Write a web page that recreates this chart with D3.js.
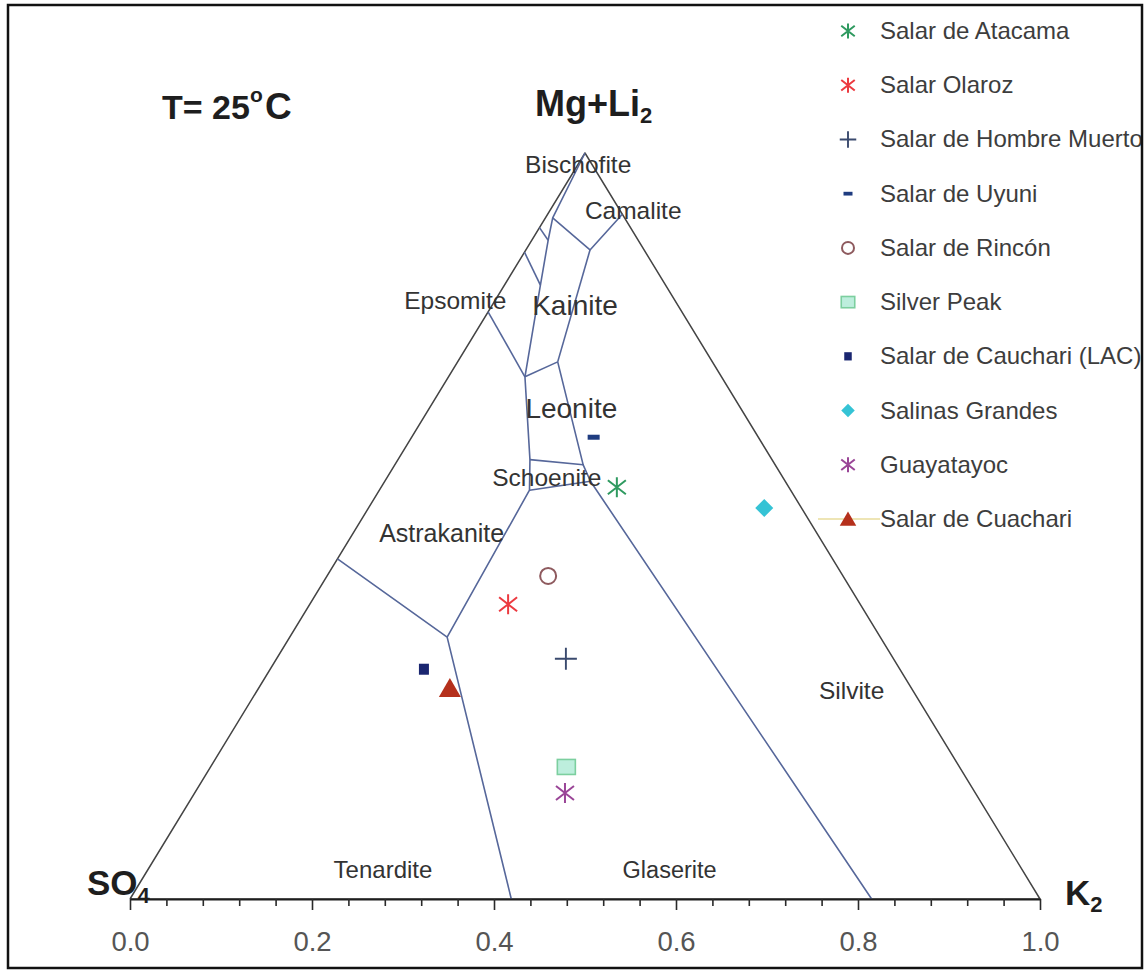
<!DOCTYPE html>
<html><head><meta charset="utf-8">
<script src="https://cdn.jsdelivr.net/npm/d3@7"></script>
<style>
html,body{margin:0;padding:0;background:#fff;}
svg{display:block;font-family:"Liberation Sans",Arial,Helvetica,sans-serif;}
</style></head><body>
<svg id="chart" width="1146" height="973"></svg>
<script>
// ---------- DATA (ternary compositions: K2 fraction, Mg+Li2 fraction; SO4 = rest) ----------
const seriesNames = ["Salar de Atacama", "Salar Olaroz", "Salar de Hombre Muerto", "Salar de Uyuni",
  "Salar de Rincón", "Silver Peak", "Salar de Cauchari (LAC)", "Salinas Grandes", "Guayatayoc", "Salar de Cuachari"];
const seriesK2    = [0.259, 0.218, 0.318, 0.200, 0.243, 0.391, 0.169, 0.435, 0.407, 0.210];
const seriesMgLi2 = [0.552, 0.395, 0.322, 0.619, 0.433, 0.177, 0.308, 0.524, 0.142, 0.283];
const seriesMarkers = ["asterisk", "asterisk", "plus", "dash", "circle", "square", "smallSquare", "diamond", "asterisk", "triangle"];
const seriesColors = ["#2f9a60", "#ec3a40", "#3a4a6e", "#1f3c80", "#8e5a5e", "#7ccf9f", "#1a2670", "#35c3d5", "#9a4597", "#b5301c"];
const seriesFills  = ["none", "none", "none", "#1f3c80", "none", "#bdeedd", "#1a2670", "#35c3d5", "none", "#b5301c"];

// phase field boundaries, each a polyline of [K2, Mg+Li2]
const phaseBoundaries = [
  [[0.0, 1.0], [0.008, 0.913], [0.018, 0.883], [0.0395, 0.823], [0.084, 0.700]],
  [[0.0, 0.900], [0.018, 0.883]],
  [[0.0, 0.867], [0.0395, 0.823]],
  [[0.008, 0.913], [0.0705, 0.870], [0.082, 0.918]],
  [[0.0705, 0.870], [0.110, 0.720]],
  [[0.0, 0.787], [0.084, 0.700]],
  [[0.084, 0.700], [0.110, 0.720]],
  [[0.084, 0.700], [0.145, 0.589], [0.165, 0.548], [0.173, 0.351]],
  [[0.110, 0.720], [0.207, 0.582], [0.226, 0.560], [0.815, 0.0]],
  [[0.145, 0.589], [0.207, 0.582]],
  [[0.165, 0.548], [0.226, 0.560]],
  [[0.0, 0.456], [0.173, 0.351], [0.419, 0.0]]
];

// phase field names and their ternary positions
const fieldNames = ["Bischofite", "Camalite", "Epsomite", "Kainite", "Leonite", "Schoenite", "Astrakanite", "Tenardite", "Glaserite", "Silvite"];
const fieldK2    = [0.0, 0.091, -0.044, 0.091, 0.156, 0.175, 0.097, 0.258, 0.573, 0.653];
const fieldMgLi2 = [0.985, 0.924, 0.803, 0.796, 0.658, 0.566, 0.491, 0.040, 0.040, 0.280];
const fieldSizes = [24.5, 24.5, 24.5, 28, 28, 24.5, 25, 24, 23.5, 24.5];

const tickValues = d3.range(0, 1.0001, 0.04);
const tickLabels = ["0.0", "0.2", "0.4", "0.6", "0.8", "1.0"];

// ---------- SCALES ----------
const svg = d3.select("#chart");
const x = d3.scaleLinear().domain([0, 1]).range([130, 1040]);
const y = d3.scaleLinear().domain([0, 1]).range([899, 153]);
const tern = (k, m) => [x(k + m / 2), y(m)];

svg.append("rect").attr("width", 1146).attr("height", 973).attr("fill", "#fff");
svg.append("clipPath").attr("id", "frameClip").append("rect")
  .attr("x", 9).attr("y", 6).attr("width", 1132).attr("height", 961);
const g = svg.append("g").attr("clip-path", "url(#frameClip)");

// outer triangle
const line = d3.line().x(d => tern(d[0], d[1])[0]).y(d => tern(d[0], d[1])[1]);
g.append("path").datum([[0, 0], [1, 0], [0, 1], [0, 0]]).attr("d", line)
  .attr("fill", "none").attr("stroke", "#444").attr("stroke-width", 1.5).attr("stroke-linejoin", "round");

// boundaries
g.selectAll("path.bnd").data(phaseBoundaries).join("path").attr("class", "bnd")
  .attr("d", line).attr("fill", "none").attr("stroke", "#56679a").attr("stroke-width", 1.6)
  .attr("stroke-linejoin", "round");

// field labels
g.selectAll("text.field").data(fieldNames).join("text").attr("class", "field")
  .attr("x", (d, i) => tern(fieldK2[i], fieldMgLi2[i])[0])
  .attr("y", (d, i) => tern(fieldK2[i], fieldMgLi2[i])[1])
  .attr("dy", "0.36em").attr("text-anchor", "middle")
  .attr("font-size", (d, i) => fieldSizes[i]).attr("fill", "#333").text(d => d);

// corner labels
const so4 = g.append("text").attr("x", 87).attr("y", 895).attr("font-size", 35).attr("font-weight", "bold").attr("fill", "#1e1e1e");
so4.append("tspan").text("SO");
so4.append("tspan").attr("font-size", 22).attr("dy", 8).text("4");
const k2 = g.append("text").attr("x", 1065).attr("y", 905).attr("font-size", 35).attr("font-weight", "bold").attr("fill", "#1e1e1e");
k2.append("tspan").text("K");
k2.append("tspan").attr("font-size", 22).attr("dy", 7).text("2");
const mg = g.append("text").attr("x", 535).attr("y", 116).attr("font-size", 36).attr("font-weight", "bold").attr("fill", "#1e1e1e");
mg.append("tspan").text("Mg+Li");
mg.append("tspan").attr("font-size", 22).attr("dy", 7).text("2");
const tt = g.append("text").attr("x", 162).attr("y", 119).attr("font-size", 34).attr("font-weight", "bold").attr("fill", "#1e1e1e");
tt.append("tspan").text("T= 25");
tt.append("tspan").attr("font-size", 21).attr("x", 250).attr("dy", -17).text("o");
tt.append("tspan").attr("dy", 17).attr("x", 265).attr("font-size", 37).text("C");

// axis
const major = d => Math.abs(d * 5 - Math.round(d * 5)) < 1e-6;
const xAxis = d3.axisBottom(x).tickValues(tickValues).tickSize(7).tickSizeOuter(0)
  .tickFormat(d => major(d) ? tickLabels[Math.round(d * 5)] : "");
const ax = g.append("g").attr("transform", "translate(0,899)").call(xAxis);
ax.select(".domain").attr("stroke", "#1e1e1e").attr("stroke-width", 2.2);
ax.selectAll(".tick line").attr("stroke", "#2a2a2a").attr("stroke-width", 1.6)
  .attr("y2", d => major(d) ? 11 : 7);
ax.selectAll(".tick text").attr("y", 52).attr("dy", 0).attr("font-size", 27.5)
  .attr("font-family", "Liberation Sans, Arial, sans-serif").attr("fill", "#555");

// markers
function drawMarker(gm, i, s) {
  const col = seriesColors[i], fill = seriesFills[i];
  switch (seriesMarkers[i]) {
    case "asterisk":
      gm.append("path").attr("d", `M0,${-s}V${s}M${-0.9 * s},${-0.7 * s}L${0.9 * s},${0.7 * s}M${-0.9 * s},${0.7 * s}L${0.9 * s},${-0.7 * s}`)
        .attr("stroke", col).attr("stroke-width", 2).attr("fill", "none"); break;
    case "plus":
      gm.append("path").attr("d", `M${-1.1 * s},0H${1.1 * s}M0,${-1.1 * s}V${1.1 * s}`)
        .attr("stroke", col).attr("stroke-width", 1.9).attr("fill", "none"); break;
    case "dash":
      gm.append("rect").attr("x", -0.6 * s).attr("y", -0.25 * s).attr("width", 1.2 * s).attr("height", 0.5 * s).attr("fill", fill); break;
    case "circle":
      gm.append("circle").attr("r", 0.8 * s).attr("fill", "none").attr("stroke", col).attr("stroke-width", 2); break;
    case "square":
      gm.append("rect").attr("x", -0.9 * s).attr("y", -0.75 * s).attr("width", 1.8 * s).attr("height", 1.5 * s)
        .attr("fill", fill).attr("stroke", col).attr("stroke-width", 1.6); break;
    case "smallSquare":
      gm.append("rect").attr("x", -0.5 * s).attr("y", -0.55 * s).attr("width", 1.0 * s).attr("height", 1.1 * s).attr("fill", fill); break;
    case "diamond":
      gm.append("path").attr("d", `M0,${-0.9 * s}L${0.9 * s},0L0,${0.9 * s}L${-0.9 * s},0Z`).attr("fill", fill); break;
    case "triangle":
      gm.append("path").attr("d", `M0,${-s}L${1.1 * s},${0.9 * s}L${-1.1 * s},${0.9 * s}Z`).attr("fill", fill); break;
  }
}

seriesNames.forEach((n, i) => {
  const p = tern(seriesK2[i], seriesMgLi2[i]);
  const gm = g.append("g").attr("transform", `translate(${p[0]},${p[1]})`);
  drawMarker(gm, i, 10);
});

// legend
const ly = d3.scaleLinear().domain([0, seriesNames.length - 1]).range([31, 519]);
g.append("line").attr("x1", 818).attr("x2", 880).attr("y1", ly(9)).attr("y2", ly(9))
  .attr("stroke", "#e8dc9c").attr("stroke-width", 1.6);
seriesNames.forEach((n, i) => {
  const gm = g.append("g").attr("transform", `translate(848,${ly(i)})`);
  drawMarker(gm, i, 7.5);
  g.append("text").attr("x", 880).attr("y", ly(i) + 8).attr("font-size", 24).attr("fill", "#3d3d3d").text(n);
});

// frame
svg.append("rect").attr("x", 8).attr("y", 5).attr("width", 1134).attr("height", 963)
  .attr("fill", "none").attr("stroke", "#111").attr("stroke-width", 2.5);
</script>
</body></html>
